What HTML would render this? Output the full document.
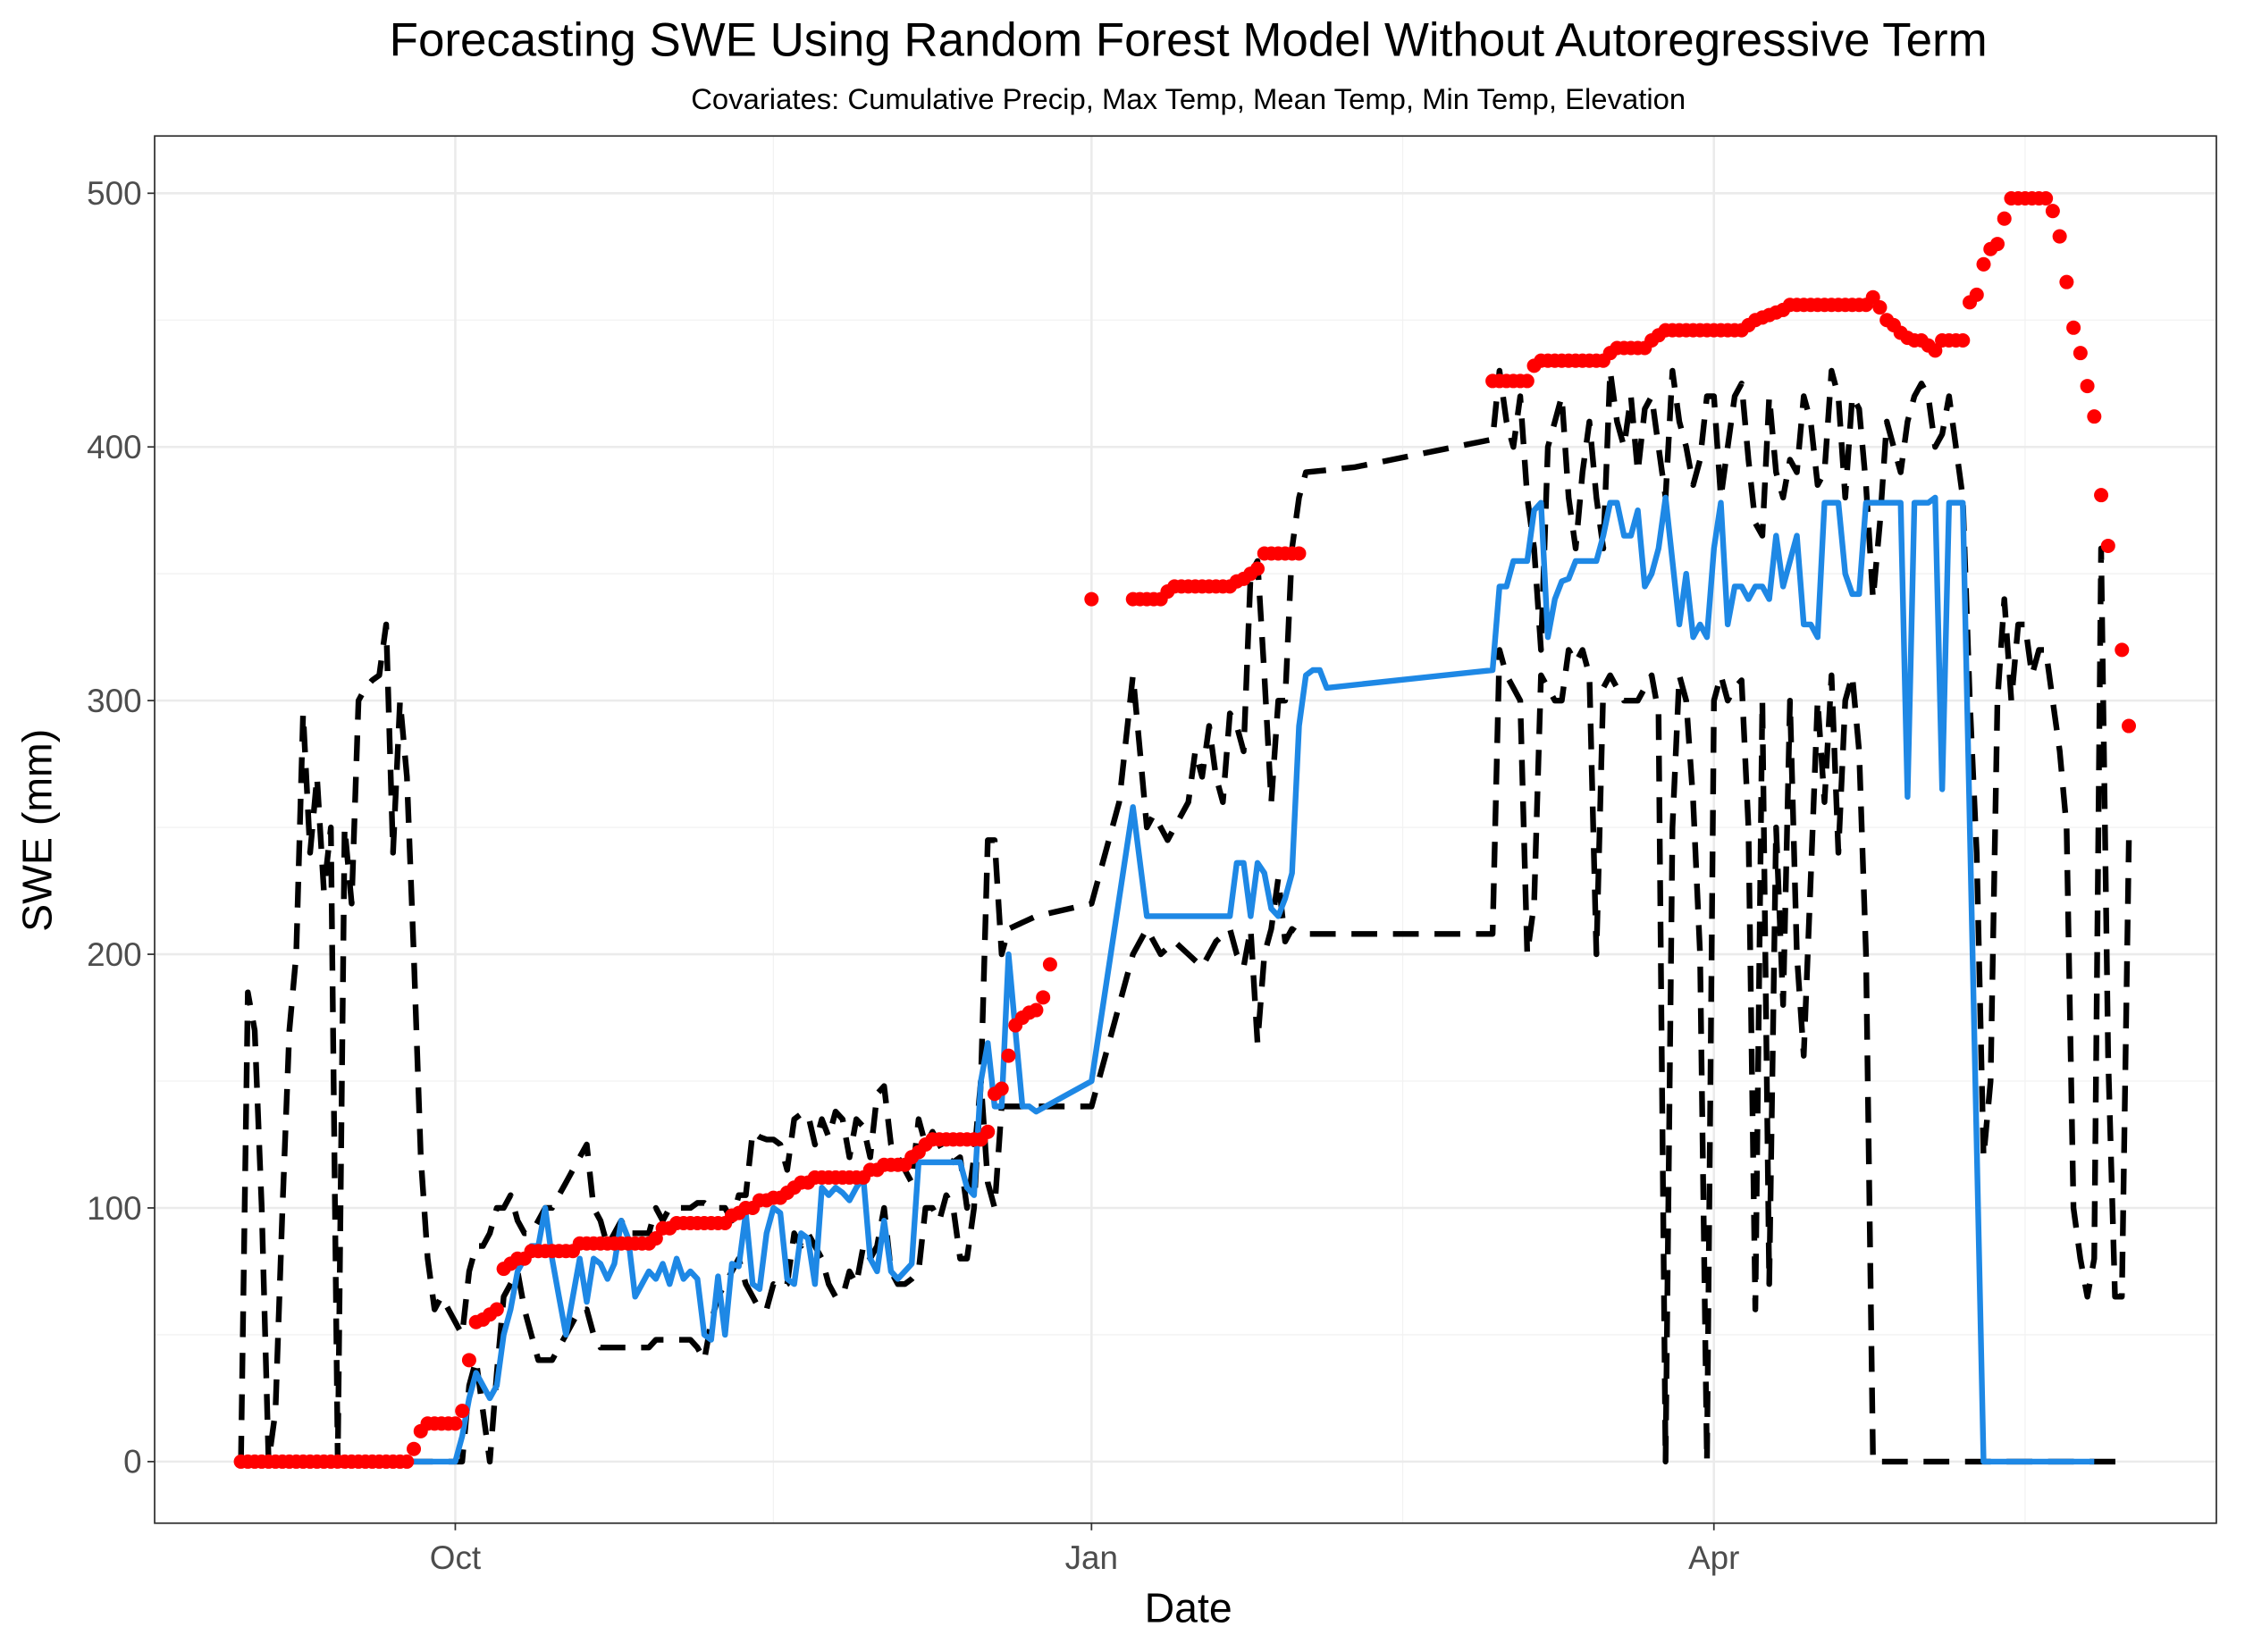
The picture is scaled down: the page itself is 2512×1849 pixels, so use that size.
<!DOCTYPE html>
<html><head><meta charset="utf-8"><style>
html,body{margin:0;padding:0;background:#fff;}
svg{display:block;font-family:"Liberation Sans",Arial,sans-serif;}
</style></head><body>
<svg id="chart" width="2512" height="1849" viewBox="0 0 1568 1154" preserveAspectRatio="none" xmlns="http://www.w3.org/2000/svg">
<rect x="0" y="0" width="1568" height="1154" fill="#fff"/>
<text x="830" y="39" text-anchor="middle" font-size="33" fill="#000">Forecasting SWE Using Random Forest Model Without Autoregressive Term</text>
<text x="830" y="76" text-anchor="middle" font-size="20.5" fill="#000">Covariates: Cumulative Precip, Max Temp, Mean Temp, Min Temp, Elevation</text>
<g id="grid"></g>
<g id="marks"></g>
<rect x="108" y="95" width="1440" height="969" fill="none" stroke="#333" stroke-width="1.1"/>
<g id="axes"></g>
<text x="830" y="1133" text-anchor="middle" font-size="29" fill="#000">Date</text>
<text x="0" y="0" transform="translate(36,580) rotate(-90)" text-anchor="middle" font-size="29" fill="#000">SWE (mm)</text>
</svg>
<script>
// days since Oct 1
const xTickLabels = ["Oct","Jan","Apr"];
const xTickDays = [0,92,182];
const xMinorDays = [46,137,227];
const yTickValues = [0,100,200,300,400,500];
const yMinorValues = [50,150,250,350,450];

const obsDays = [-31,-30,-29,-28,-27,-26,-25,-24,-23,-22,-21,-20,-19,-18,-17,-16,-15,-14,-13,-12,-11,-10,-9,-8,-7,-6,-5,-4,-3,-2,-1,0,1,2,3,4,5,6,7,8,9,10,11,12,13,14,15,16,17,18,19,20,21,22,23,24,25,26,27,28,29,30,31,32,33,34,35,36,37,38,39,40,41,42,43,44,45,46,47,48,49,50,51,52,53,54,55,56,57,58,59,60,61,62,63,64,65,66,67,68,69,70,71,72,73,74,75,76,77,78,79,80,81,82,83,84,85,86,
92,98,99,100,101,102,103,104,105,106,107,108,109,110,111,112,113,114,115,116,117,118,119,120,121,122,
150,151,152,153,154,155,156,157,158,159,160,161,162,163,164,165,166,167,168,169,170,171,172,173,174,175,176,177,178,179,180,181,182,183,184,185,186,187,188,189,190,191,192,193,194,195,196,197,198,199,200,201,202,203,204,205,206,207,208,209,210,211,212,213,214,215,216,217,218,219,220,221,222,223,224,225,226,227,228,229,230,231,232,233,234,235,236,237,238,239,241,242];
const obsVals = [0,0,0,0,0,0,0,0,0,0,0,0,0,0,0,0,0,0,0,0,0,0,0,0,0,5,12,15,15,15,15,15,20,40,55,56,58,60,76,78,80,80,83,83,83,83,83,83,83,86,86,86,86,86,86,86,86,86,86,86,88,92,92,94,94,94,94,94,94,94,94,97,98,100,100,103,103,104,104,106,108,110,110,112,112,112,112,112,112,112,112,115,115,117,117,117,117,120,122,125,127,127,127,127,127,127,127,127,130,145,147,160,172,175,177,178,183,196,
340,340,340,340,340,340,343,345,345,345,345,345,345,345,345,345,347,348,350,352,358,358,358,358,358,358,
426,426,426,426,426,426,432,434,434,434,434,434,434,434,434,434,434,437,439,439,439,439,439,442,444,446,446,446,446,446,446,446,446,446,446,446,446,448,450,451,452,453,454,456,456,456,456,456,456,456,456,456,456,456,456,459,455,450,448,445,443,442,442,440,438,442,442,442,442,457,460,472,478,480,490,498,498,498,498,498,498,493,483,465,447,437,424,412,381,361,320,290];

const predDays = [-7,-6,-5,-4,-3,-2,-1,0,1,2,3,4,5,6,7,8,9,10,11,12,13,14,15,16,17,18,19,20,21,22,23,24,25,26,27,28,29,30,31,32,33,34,35,36,37,38,39,40,41,42,43,44,45,46,47,48,49,50,51,52,53,54,55,56,57,58,59,60,61,62,63,64,65,66,67,68,69,70,71,72,73,74,75,76,77,78,79,80,81,82,83,84,92,98,100,104,112,113,114,115,116,117,118,119,120,121,122,123,124,125,126,150,151,152,153,154,155,156,157,158,159,160,161,162,163,164,165,166,167,168,169,170,171,172,173,174,175,176,177,178,179,180,181,182,183,184,185,186,187,188,189,190,191,192,193,194,195,196,197,198,199,200,201,202,203,204,205,206,207,208,209,210,211,212,213,214,215,216,217,218,221,237];
const predVals = [0,0,0,0,0,0,0,0,10,25,35,30,25,30,50,60,75,80,85,85,100,80,65,50,65,80,63,80,78,72,78,95,88,65,70,75,72,78,70,80,72,75,72,50,48,73,50,78,77,98,70,68,90,100,98,72,70,90,88,70,108,105,108,106,103,108,112,80,75,95,75,72,75,78,118,118,118,118,118,118,118,108,105,150,165,140,140,200,170,140,140,138,150,258,215,215,215,236,236,215,236,232,218,215,222,232,290,310,312,312,305,312,345,345,355,355,355,375,378,325,340,347,348,355,355,355,355,365,378,378,365,365,375,345,350,360,380,355,330,350,325,330,325,360,378,330,345,345,340,345,345,340,365,345,355,365,330,330,325,378,378,378,350,342,342,378,378,378,378,378,378,262,378,378,378,380,265,378,378,378,0,0];

const upperDays = [-31,-30,-29,-28,-27,-26,-25,-24,-23,-22,-21,-20,-19,-18,-17,-16,-15,-14,-13,-12,-11,-10,-9,-8,-7,-6,-5,-4,-3,-2,-1,0,1,2,3,4,5,6,7,8,9,10,11,12,13,14,15,16,17,18,19,20,21,22,23,24,25,26,27,28,29,30,31,32,33,34,35,36,37,38,39,40,41,42,43,44,45,46,47,48,49,50,51,52,53,54,55,56,57,58,59,60,61,62,63,64,65,66,67,68,69,70,71,72,73,74,75,76,77,78,79,80,84,92,96,98,99,100,101,102,103,104,105,106,107,108,109,110,111,112,113,114,115,116,117,118,119,120,121,122,123,130,150,151,152,153,154,155,156,157,158,159,160,161,162,163,164,165,166,167,168,169,170,171,172,173,174,175,176,177,178,179,180,181,182,183,184,185,186,187,188,189,190,191,192,193,194,195,196,197,198,199,200,201,202,203,204,205,206,207,208,209,210,211,212,213,214,215,216,217,218,219,220,221,222,223,224,225,226,227,228,229,230,231,232,233,234,235,236,237,238,239,240,241,242];
const upperVals = [0,185,170,100,0,20,100,170,200,295,240,270,225,250,0,250,220,300,305,308,310,330,240,300,270,200,120,80,60,65,60,55,50,75,85,85,90,100,100,105,95,90,90,95,100,100,105,110,115,120,125,100,95,85,90,95,90,90,90,90,100,95,100,100,100,100,102,102,100,100,100,95,105,105,130,128,127,127,125,115,135,137,137,125,135,128,138,135,120,135,132,120,145,148,125,120,115,110,135,125,130,125,120,118,120,100,120,150,245,245,200,210,215,220,260,310,280,250,255,250,245,250,255,260,280,270,290,270,260,295,290,280,350,355,310,260,300,300,360,380,390,392,403,430,410,400,420,380,360,320,400,410,420,380,360,390,410,380,360,430,410,400,420,390,415,420,400,380,430,410,400,385,395,420,420,380,400,420,425,395,370,365,420,390,380,395,390,420,410,385,390,430,420,380,420,415,385,340,370,410,400,390,410,420,425,420,400,405,420,400,380,300,240,120,150,300,340,300,330,330,310,320,320,300,280,250,100,80,65,80,360,160,65,65,245];

const lowerDays = [-31,1,2,3,4,5,6,7,8,9,10,11,12,13,14,15,16,17,18,19,20,21,22,23,24,25,26,27,28,29,30,31,32,33,34,35,36,37,38,39,40,41,42,43,44,45,46,47,48,49,50,51,52,53,54,55,56,57,58,59,60,61,62,63,64,65,66,67,68,69,70,71,72,73,74,75,76,77,78,79,80,84,92,95,98,100,102,104,106,108,110,112,113,114,115,116,117,118,119,120,121,122,130,150,151,152,153,154,155,156,157,158,159,160,161,162,163,164,165,166,167,168,169,170,171,172,173,174,175,176,177,178,179,180,181,182,183,184,185,186,187,188,189,190,191,192,193,194,195,196,197,198,199,200,201,202,203,204,205,242];
const lowerVals = [0,0,30,40,20,0,35,65,70,75,60,50,40,40,40,45,50,55,60,60,50,45,45,45,45,45,45,45,45,48,48,48,48,48,48,45,40,55,65,70,75,80,70,65,60,60,70,68,70,90,85,90,85,80,70,65,65,75,70,85,80,85,100,75,70,70,72,75,100,100,95,105,100,80,80,100,150,110,100,140,140,140,140,170,200,210,200,205,200,195,205,210,200,195,210,165,200,210,230,205,210,208,208,208,320,310,305,300,200,220,310,305,300,300,320,315,320,310,200,305,310,305,300,300,300,305,310,295,0,250,310,300,260,200,0,300,310,300,305,308,250,60,300,70,250,180,300,200,160,230,300,260,310,240,300,310,280,200,0,0];

const NS = "http://www.w3.org/2000/svg";
const X0 = 318, PXDAY = 4.83, Y0 = 1021, PXUNIT = 1.772;
function xs(d){ return X0 + d*PXDAY; }
function ys(v){ return Y0 - v*PXUNIT; }
function mk(tag, attrs, parent){
  const el = document.createElementNS(NS, tag);
  for (const k in attrs) el.setAttribute(k, attrs[k]);
  parent.appendChild(el);
  return el;
}
const grid = document.getElementById('grid');
const marks = document.getElementById('marks');
const axes = document.getElementById('axes');

yMinorValues.forEach(v=>{
  const l = mk('line',{x1:108,x2:1548,y1:ys(v),y2:ys(v),stroke:'#f2f2f2','stroke-width':0.8},grid);
  
  
});
xMinorDays.forEach(d=>{
  const l = mk('line',{x1:xs(d),x2:xs(d),y1:95,y2:1064,stroke:'#f2f2f2','stroke-width':0.8},grid);
  
  
});
yTickValues.forEach(v=>{
  const l = mk('line',{x1:108,x2:1548,y1:ys(v),y2:ys(v),stroke:'#ebebeb','stroke-width':1.6},grid);
  
  
  const t = mk('line',{x1:103,x2:108,y1:ys(v),y2:ys(v),stroke:'#333','stroke-width':1.1},axes);
  
  
  const tx = mk('text',{x:99,y:ys(v)+8,'text-anchor':'end','font-size':'23',fill:'#4d4d4d'},axes);
  tx.textContent = v;
  
  
});
xTickDays.forEach((d,i)=>{
  const l = mk('line',{x1:xs(d),x2:xs(d),y1:95,y2:1064,stroke:'#ebebeb','stroke-width':1.6},grid);
  
  
  const t = mk('line',{x1:xs(d),x2:xs(d),y1:1064,y2:1069,stroke:'#333','stroke-width':1.1},axes);
  
  
  const tx = mk('text',{x:xs(d),y:1096,'text-anchor':'middle','font-size':'23',fill:'#4d4d4d'},axes);
  tx.textContent = xTickLabels[i];
  
  
});
function pts(ds, vs){ return ds.map((d,i)=>xs(d).toFixed(1)+','+ys(vs[i]).toFixed(1)).join(' '); }

const up = mk('polyline',{points:pts(upperDays,upperVals),fill:'none',stroke:'#000','stroke-width':4,'stroke-dasharray':'18 11','stroke-linejoin':'round'},marks);


const lo = mk('polyline',{points:pts(lowerDays,lowerVals),fill:'none',stroke:'#000','stroke-width':4,'stroke-dasharray':'18 11','stroke-linejoin':'round'},marks);


const pr = mk('polyline',{points:pts(predDays,predVals),fill:'none',stroke:'#1e88e5','stroke-width':4,'stroke-linejoin':'round'},marks);


obsDays.forEach((d,i)=>{
  const c = mk('circle',{cx:xs(d),cy:ys(obsVals[i]),r:5,fill:'#ff0000'},marks);
  
  
});
</script>
</body></html>
